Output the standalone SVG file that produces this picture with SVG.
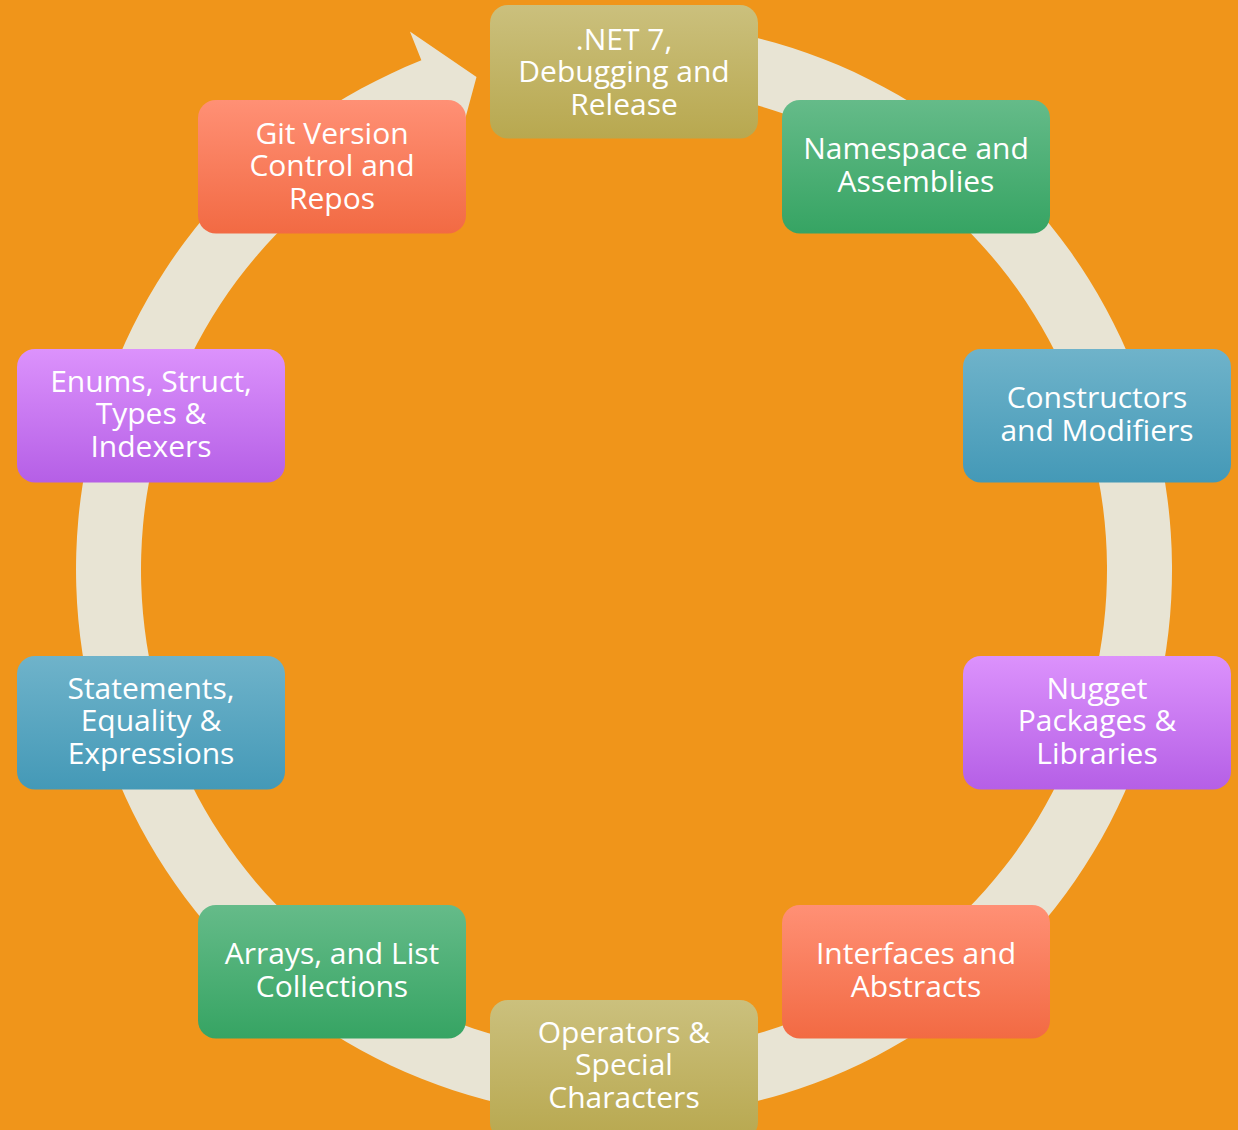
<svg xmlns="http://www.w3.org/2000/svg" width="1238" height="1130" viewBox="0 0 1238 1130">
<defs>
<linearGradient id="gOlive" x1="0" y1="0" x2="0" y2="1"><stop offset="0" stop-color="#CBC07D"/><stop offset="1" stop-color="#B8A84F"/></linearGradient>
<linearGradient id="gGreen" x1="0" y1="0" x2="0" y2="1"><stop offset="0" stop-color="#65BB89"/><stop offset="1" stop-color="#36A463"/></linearGradient>
<linearGradient id="gBlue" x1="0" y1="0" x2="0" y2="1"><stop offset="0" stop-color="#6FB3CA"/><stop offset="1" stop-color="#4499B7"/></linearGradient>
<linearGradient id="gPurple" x1="0" y1="0" x2="0" y2="1"><stop offset="0" stop-color="#DC92FC"/><stop offset="1" stop-color="#B55FE6"/></linearGradient>
<linearGradient id="gRed" x1="0" y1="0" x2="0" y2="1"><stop offset="0" stop-color="#FF9075"/><stop offset="1" stop-color="#F26A43"/></linearGradient>
</defs>
<style>
.box{rx:18px;ry:18px}
.lbl{font-family:"Open Sans","Noto Sans","DejaVu Sans",sans-serif;font-size:30px;fill:#FFFFFF;text-anchor:middle}
</style>
<rect x="0" y="0" width="1238" height="1130" fill="#F0951A"/>
<g id="connectors">
<path d="M 643.12 21.83 A 548 548 0 1 1 421.38 60.34 L 409.91 31.53 L 476.5 77 L 456.87 149.53 L 445.41 120.73 A 483 483 0 1 0 640.86 86.79 Z" fill="#E8E4D4"/>
</g>
<g id="node1"><rect class="box" x="490" y="5" width="268" height="133.5" fill="url(#gOlive)"/><text class="lbl" x="624" y="50">.NET 7,</text><text class="lbl" x="624" y="82">Debugging and</text><text class="lbl" x="624" y="115">Release</text></g>
<g id="node2"><rect class="box" x="782" y="100" width="268" height="133.5" fill="url(#gGreen)"/><text class="lbl" x="916" y="159">Namespace and</text><text class="lbl" x="916" y="192">Assemblies</text></g>
<g id="node3"><rect class="box" x="963" y="349" width="268" height="133.5" fill="url(#gBlue)"/><text class="lbl" x="1097" y="408">Constructors</text><text class="lbl" x="1097" y="441">and Modifiers</text></g>
<g id="node4"><rect class="box" x="963" y="656" width="268" height="133.5" fill="url(#gPurple)"/><text class="lbl" x="1097" y="699">Nugget</text><text class="lbl" x="1097" y="731">Packages &amp;</text><text class="lbl" x="1097" y="764">Libraries</text></g>
<g id="node5"><rect class="box" x="782" y="905" width="268" height="133.5" fill="url(#gRed)"/><text class="lbl" x="916" y="964">Interfaces and</text><text class="lbl" x="916" y="997">Abstracts</text></g>
<g id="node6"><rect class="box" x="490" y="1000" width="268" height="140" fill="url(#gOlive)"/><text class="lbl" x="624" y="1043">Operators &amp;</text><text class="lbl" x="624" y="1075">Special</text><text class="lbl" x="624" y="1108">Characters</text></g>
<g id="node7"><rect class="box" x="198" y="905" width="268" height="133.5" fill="url(#gGreen)"/><text class="lbl" x="332" y="964">Arrays, and List</text><text class="lbl" x="332" y="997">Collections</text></g>
<g id="node8"><rect class="box" x="17" y="656" width="268" height="133.5" fill="url(#gBlue)"/><text class="lbl" x="151" y="699">Statements,</text><text class="lbl" x="151" y="731">Equality &amp;</text><text class="lbl" x="151" y="764">Expressions</text></g>
<g id="node9"><rect class="box" x="17" y="349" width="268" height="133.5" fill="url(#gPurple)"/><text class="lbl" x="151" y="392">Enums, Struct,</text><text class="lbl" x="151" y="424">Types &amp;</text><text class="lbl" x="151" y="457">Indexers</text></g>
<g id="node10"><rect class="box" x="198" y="100" width="268" height="133.5" fill="url(#gRed)"/><text class="lbl" x="332" y="144">Git Version</text><text class="lbl" x="332" y="176">Control and</text><text class="lbl" x="332" y="209">Repos</text></g>
</svg>
